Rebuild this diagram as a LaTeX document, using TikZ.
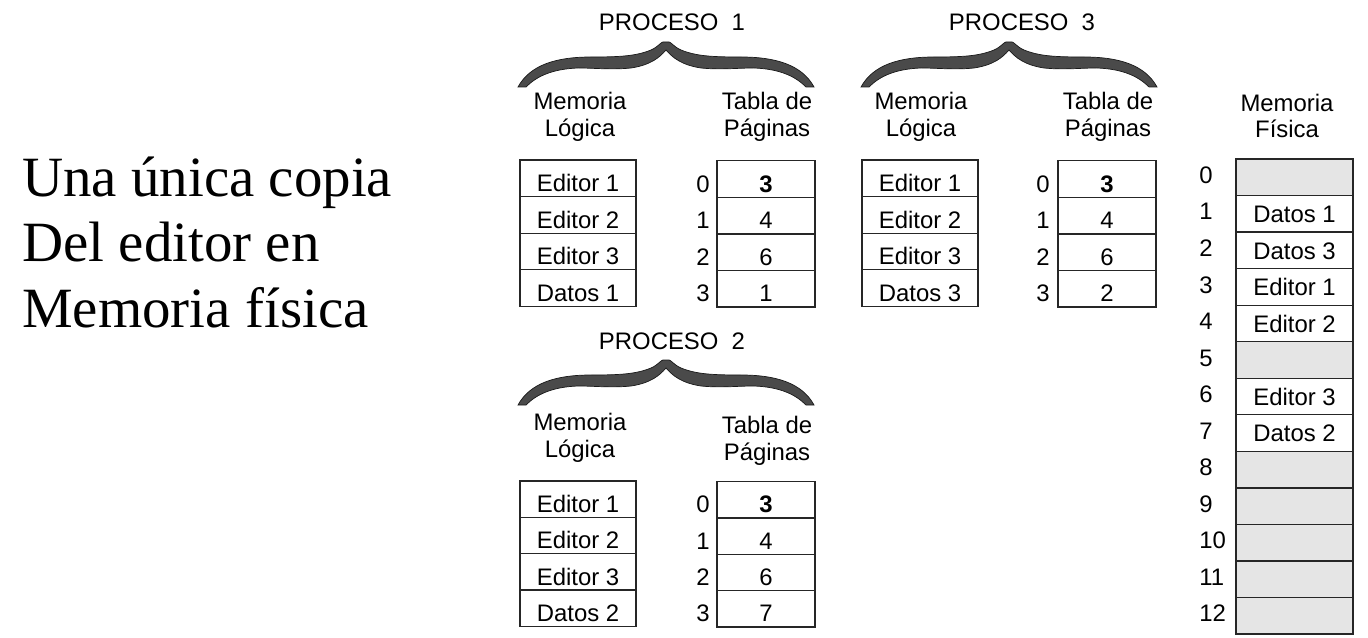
\documentclass[tikz,border=0pt]{standalone}
\usepackage{fontspec}
\setmainfont{Liberation Sans}
\newfontfamily\serifface{Liberation Serif}

% Filled curly brace: #1,#2 = centre of its base line
\newcommand{\procbrace}[2]{%
  \path[bracefill, shift={(#1,#2)}]
    (-148,0) .. controls (-136,-22) and (-110,-30) .. (-75,-30)
    .. controls (-45,-30) and (-30,-31) .. (-15,-37)
    .. controls (-8,-40) and (-5,-45) .. (-3,-45) -- (3,-45)
    .. controls (5,-45) and (8,-40) .. (15,-37)
    .. controls (30,-31) and (45,-30) .. (75,-30)
    .. controls (110,-30) and (136,-22) .. (148,0)
    -- (140,0)
    .. controls (130,-10) and (115,-18) .. (88,-19)
    .. controls (70,-19) and (55,-17) .. (35,-19)
    .. controls (15,-22) and (6,-30) .. (0,-37)
    .. controls (-6,-30) and (-15,-22) .. (-35,-19)
    .. controls (-55,-17) and (-70,-19) .. (-88,-19)
    .. controls (-115,-18) and (-130,-10) .. (-140,0) -- cycle;}

\begin{document}
\begin{tikzpicture}[x=0.02cm,y=-0.02cm,
  lbl/.style={font=\fontsize{13.6}{15.3}\selectfont, inner sep=0pt},
  twoline/.style={lbl, align=center},
  cellbox/.style={draw=black!85, line width=0.7pt, inner sep=0pt,
    text height=15pt, text depth=0pt, minimum height=0.73cm,
    font=\fontsize{13.6}{15.3}\selectfont},
  logcell/.style={cellbox, minimum width=2.32cm},
  pagecell/.style={cellbox, minimum width=1.96cm},
  physcell/.style={cellbox, minimum width=2.34cm, text height=10pt},
  free/.style={fill=black!10},
  used/.style={fill=white},
  idx/.style={lbl, text height=15pt, text depth=0pt},
  physidx/.style={lbl, text height=7pt, text depth=0pt, anchor=west},
  bigtext/.style={font=\serifface\fontsize{32.4}{38}\selectfont, inner sep=0pt, anchor=base west},
  bracefill/.style={fill=black!71, draw=black!90, line width=0.4pt}
]
\path[use as bounding box] (0,0) rectangle (1368,638);

% caption on the left
\node[bigtext] (cap1) at (22,197) {Una única copia};
\node[bigtext] (cap2) at (22,262) {Del editor en};
\node[bigtext] (cap3) at (22,327) {Memoria física};

% ---------- PROCESO 1 ----------
\node[lbl] (pa-title) at (672,22) {PROCESO~ 1};
\procbrace{666}{87}
\node[twoline] (pa-lh) at (580,117) {Memoria\\Lógica};
\node[twoline] (pa-ph) at (767,117) {Tabla de\\Páginas};
\foreach \t [count=\i from 0] in {Editor 1,Editor 2,Editor 3,Datos 1}
  \node[logcell] (pa-l\i) at (578,{178.3+36.6*\i}) {\t};
\foreach \t [count=\i from 0] in {\textbf{3},4,6,1}{
  \node[pagecell] (pa-p\i) at (766,{179+36.6*\i}) {\t};
  \node[idx] (pa-i\i) at (703,{179+36.6*\i}) {\i};
}

% ---------- PROCESO 3 ----------
\node[lbl] (pc-title) at (1022,22) {PROCESO~ 3};
\procbrace{1009}{87}
\node[twoline] (pc-lh) at (921,117) {Memoria\\Lógica};
\node[twoline] (pc-ph) at (1108,117) {Tabla de\\Páginas};
\foreach \t [count=\i from 0] in {Editor 1,Editor 2,Editor 3,Datos 3}
  \node[logcell] (pc-l\i) at (920,{178.3+36.6*\i}) {\t};
\foreach \t [count=\i from 0] in {\textbf{3},4,6,2}{
  \node[pagecell] (pc-p\i) at (1107,{179+36.6*\i}) {\t};
  \node[idx] (pc-i\i) at (1043,{179+36.6*\i}) {\i};
}

% ---------- PROCESO 2 ----------
\node[lbl] (pb-title) at (672,341) {PROCESO~ 2};
\procbrace{666}{405}
\node[twoline] (pb-lh) at (580,438) {Memoria\\Lógica};
\node[twoline] (pb-ph) at (767,441) {Tabla de\\Páginas};
\foreach \t [count=\i from 0] in {Editor 1,Editor 2,Editor 3,Datos 2}
  \node[logcell] (pb-l\i) at (578,{499.3+36.3*\i}) {\t};
\foreach \t [count=\i from 0] in {\textbf{3},4,6,7}{
  \node[pagecell] (pb-p\i) at (766,{499.8+36.3*\i}) {\t};
  \node[idx] (pb-i\i) at (703,{499.8+36.3*\i}) {\i};
}

% ---------- Memoria Física ----------
\node[twoline] (pm-h) at (1287,116) {Memoria\\Física};
\foreach \t/\s [count=\i from 0] in
  {/free,Datos 1/used,Datos 3/used,Editor 1/used,Editor 2/used,/free,
   Editor 3/used,Datos 2/used,/free,/free,/free,/free,/free}{
  \node[physcell,\s] (pm-c\i) at (1294.5,{177.3+36.54*\i}) {\t};
  \node[physidx] (pm-i\i) at (1199,{177.3+36.54*\i}) {\i};
}
\end{tikzpicture}
\end{document}
